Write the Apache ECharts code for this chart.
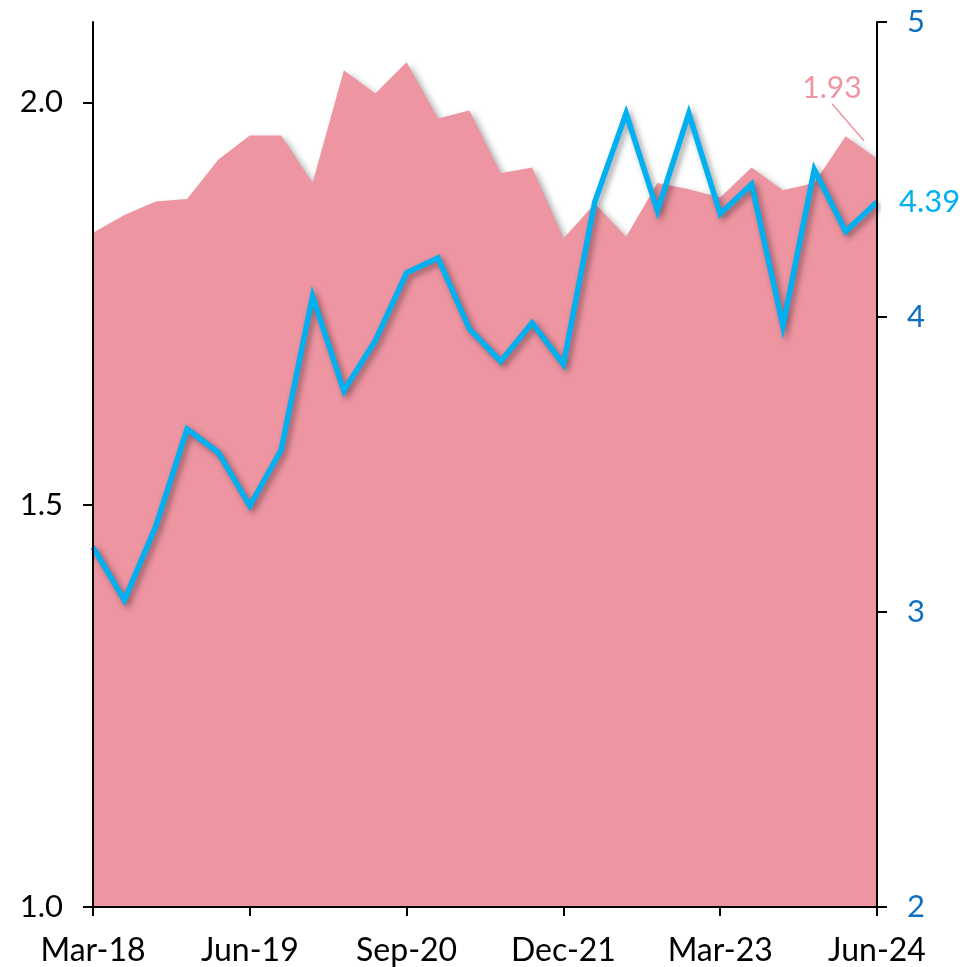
<!DOCTYPE html>
<html>
<head>
<meta charset="utf-8">
<script src="https://cdn.jsdelivr.net/npm/echarts@6/dist/echarts.min.js"></script>
<style>
  html, body { margin: 0; padding: 0; background: #fff; }
  #chart { width: 964px; height: 967px; }
</style>
</head>
<body>
<div id="chart"></div>
<script>
// Quarter-end categories
const quarters = [
  'Mar-18', 'Jun-18', 'Sep-18', 'Dec-18',
  'Mar-19', 'Jun-19', 'Sep-19', 'Dec-19',
  'Mar-20', 'Jun-20', 'Sep-20', 'Dec-20',
  'Mar-21', 'Jun-21', 'Sep-21', 'Dec-21',
  'Mar-22', 'Jun-22', 'Sep-22', 'Dec-22',
  'Mar-23', 'Jun-23', 'Sep-23', 'Dec-23',
  'Mar-24', 'Jun-24'
];

// Area series (left axis)
const areaValues = [
  1.838, 1.860, 1.877, 1.880, 1.929, 1.959, 1.959, 1.900,
  2.040, 2.011, 2.050, 1.980, 1.990, 1.912, 1.919, 1.831,
  1.874, 1.833, 1.900, 1.892, 1.882, 1.919, 1.891, 1.900,
  1.958, 1.93
];

// Line series (right axis)
const lineValues = [
  3.22, 3.04, 3.29, 3.62, 3.54, 3.36, 3.55, 4.07,
  3.75, 3.92, 4.15, 4.20, 3.96, 3.85, 3.98, 3.84,
  4.39, 4.69, 4.36, 4.69, 4.35, 4.45, 3.97, 4.50,
  4.29, 4.39
];

// Tick values
const leftTicks = [1.0, 1.5, 2.0];
const rightTicks = [2, 3, 4, 5];

const PINK = '#ED95A1';
const BLUE = '#00B0F0';
const AXIS_BLUE = '#0E6FC1';
const FONT = 'Lato';

const chart = echarts.init(document.getElementById('chart'), null, { renderer: 'canvas' });

const last = areaValues.length - 1;

chart.setOption({
  animation: false,
  backgroundColor: '#ffffff',
  grid: { left: 93, right: 87, top: 22, bottom: 59, containLabel: false },
  xAxis: {
    type: 'category',
    data: quarters,
    boundaryGap: false,
    z: 5,
    axisLine: { show: true, onZero: false, lineStyle: { color: '#000', width: 2 } },
    axisTick: { show: true, interval: 4, length: 9, lineStyle: { color: '#000', width: 2 } },
    axisLabel: {
      interval: 4,
      margin: 28,
      color: '#000',
      fontFamily: FONT,
      fontSize: 32
    },
    splitLine: { show: false }
  },
  yAxis: [
    {
      type: 'value',
      position: 'left',
      min: 1.0,
      max: 2.1,
      interval: 0.5,
      z: 5,
      axisLine: { show: true, lineStyle: { color: '#000', width: 2 } },
      axisTick: { show: true, length: 10, customValues: leftTicks, lineStyle: { color: '#000', width: 2 } },
      axisLabel: {
        customValues: leftTicks,
        margin: 30,
        color: '#000',
        fontFamily: FONT,
        fontSize: 31,
        formatter: v => v.toFixed(1)
      },
      splitLine: { show: false }
    },
    {
      type: 'value',
      position: 'right',
      min: 2,
      max: 5,
      interval: 1,
      z: 5,
      axisLine: { show: true, lineStyle: { color: '#000', width: 2 } },
      axisTick: { show: true, length: 10, customValues: rightTicks, lineStyle: { color: '#000', width: 2 } },
      axisLabel: {
        customValues: rightTicks,
        margin: 30,
        color: AXIS_BLUE,
        fontFamily: FONT,
        fontSize: 31
      },
      splitLine: { show: false }
    }
  ],
  series: [
    {
      name: 'area',
      type: 'line',
      yAxisIndex: 0,
      data: areaValues.map((v, i) => i === last ? {
        value: v,
        // anchor for the callout sits just above-left of the last point
        symbol: 'circle',
        symbolSize: 0.1,
        symbolOffset: [-13, -18],
        label: {
          show: true,
          position: 'top',
          distance: 4,
          color: PINK,
          fontFamily: FONT,
          fontSize: 30,
          formatter: p => p.value.toFixed(2)
        },
        labelLine: { show: true, lineStyle: { color: PINK, width: 1.5 } }
      } : v),
      symbol: 'none',
      lineStyle: { width: 0, color: PINK },
      itemStyle: { color: PINK },
      areaStyle: {
        color: PINK,
        opacity: 1,
        shadowColor: 'rgba(0,0,0,0.35)',
        shadowBlur: 7,
        shadowOffsetX: 4,
        shadowOffsetY: 4
      },
      labelLayout: p => p.dataIndex === last ? { dx: -32, dy: -33 } : {},
      labelLine: { show: true, lineStyle: { color: PINK, width: 1.5 } },
      z: 1
    },
    {
      name: 'line',
      type: 'line',
      yAxisIndex: 1,
      data: lineValues.map((v, i) => i === last ? {
        value: v,
        symbol: 'circle',
        symbolSize: 0.1,
        label: {
          show: true,
          position: 'right',
          distance: 22,
          color: BLUE,
          fontFamily: FONT,
          fontSize: 31,
          formatter: p => p.value.toFixed(2)
        }
      } : v),
      symbol: 'none',
      lineStyle: {
        color: BLUE,
        width: 5.5,
        join: 'miter',
        shadowColor: 'rgba(0,0,0,0.4)',
        shadowBlur: 6,
        shadowOffsetX: 3,
        shadowOffsetY: 3
      },
      itemStyle: { color: BLUE },
      z: 3
    }
  ]
});
</script>
</body>
</html>
